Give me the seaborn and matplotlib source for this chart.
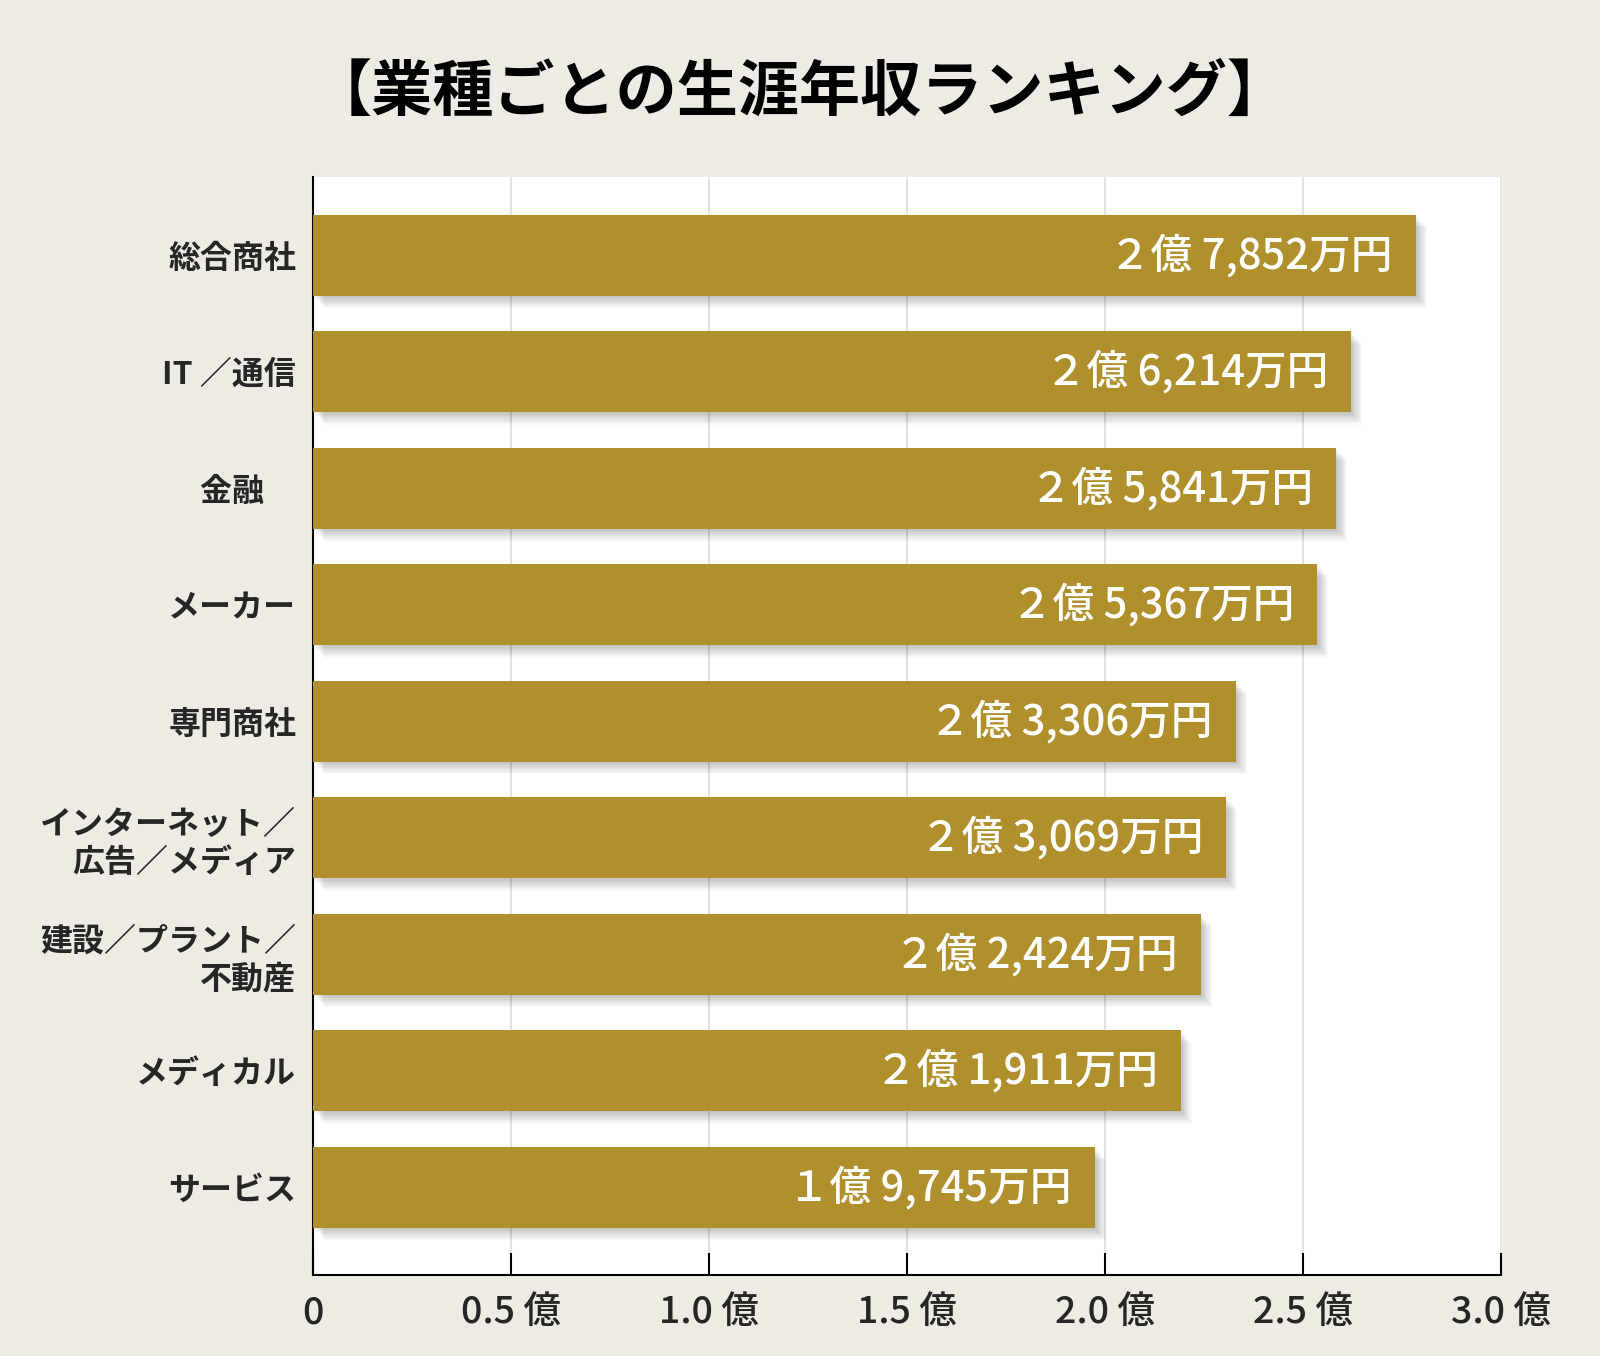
import matplotlib
matplotlib.use("Agg")
import matplotlib.pyplot as plt
import matplotlib.patheffects as pe
import seaborn as sns

# data (values in 億円)
categories = ["総合商社", "IT ／通信", "金融　", "メーカー", "専門商社",
              "インターネット／\n広告／メディア", "建設／プラント／\n不動産",
              "メディカル", "サービス"]
values = [2.7852, 2.6214, 2.5841, 2.5367, 2.3306, 2.3069, 2.2424, 2.1911, 1.9745]
value_labels = ["２億 7,852万円", "２億 6,214万円", "２億 5,841万円", "２億 5,367万円",
                "２億 3,306万円", "２億 3,069万円", "２億 2,424万円", "２億 1,911万円",
                "１億 9,745万円"]
xticks = [0, 0.5, 1.0, 1.5, 2.0, 2.5, 3.0]
xtick_labels = ["0", "0.5 億", "1.0 億", "1.5 億", "2.0 億", "2.5 億", "3.0 億"]
title = "【業種ごとの生涯年収ランキング】"

bg = "#EEEBE5"
bar_color = "#B0902C"

sns.set_style("white")
plt.rcParams['font.family'] = ['Noto Sans CJK JP', 'DejaVu Sans']

fig = plt.figure(figsize=(16, 13.56), dpi=100, facecolor=bg)
ax = fig.add_axes([0.1956, 0.0597, 0.7424, 0.8098])
ax.set_facecolor("white")

sns.barplot(x=values, y=categories, color=bar_color, saturation=1,
            width=0.695, orient="h", ax=ax, zorder=3,
            linewidth=0, edgecolor=bar_color)

# soft drop shadow
shadow = [pe.SimplePatchShadow(offset=(0.8 * d, -0.9 * d), shadow_rgbFace="black",
                               alpha=0.022)
          for d in range(1, 11)]
for p in ax.patches:
    p.set_path_effects(shadow + [pe.Normal()])

for i, (v, lab) in enumerate(zip(values, value_labels)):
    ax.text(v - 0.058, i, lab, ha="right", va="center", color="white",
            fontsize=30, fontweight="medium", zorder=5)

ax.set_xlim(0, 3.0)
ax.set_ylim(8.755, -0.67)
ax.set_xticks(xticks)
ax.set_xticklabels(xtick_labels)
ax.xaxis.grid(True, color="#DDDDDD", linewidth=1.2, zorder=0)
ax.set_axisbelow(True)
ax.tick_params(axis="x", direction="in", length=16, width=1.5, color="black",
               labelsize=27, pad=13, bottom=True)
ax.tick_params(axis="y", length=0, labelsize=23, pad=12)
for t in ax.get_xticklabels():
    t.set_fontweight("medium")
for t in ax.get_yticklabels():
    t.set_fontweight("bold")
    t.set_linespacing(1.25)

sns.despine(ax=ax, top=True, right=True)
ax.spines["left"].set_color("black")
ax.spines["left"].set_linewidth(1.5)
ax.spines["bottom"].set_color("black")
ax.spines["bottom"].set_linewidth(1.5)
ax.set_xlabel("")
ax.set_ylabel("")

fig.text(0.5, 0.931, title, ha="center", va="center", fontsize=44,
         fontweight="bold", color="black")

fig.savefig("out.png", dpi=100, facecolor=bg)
